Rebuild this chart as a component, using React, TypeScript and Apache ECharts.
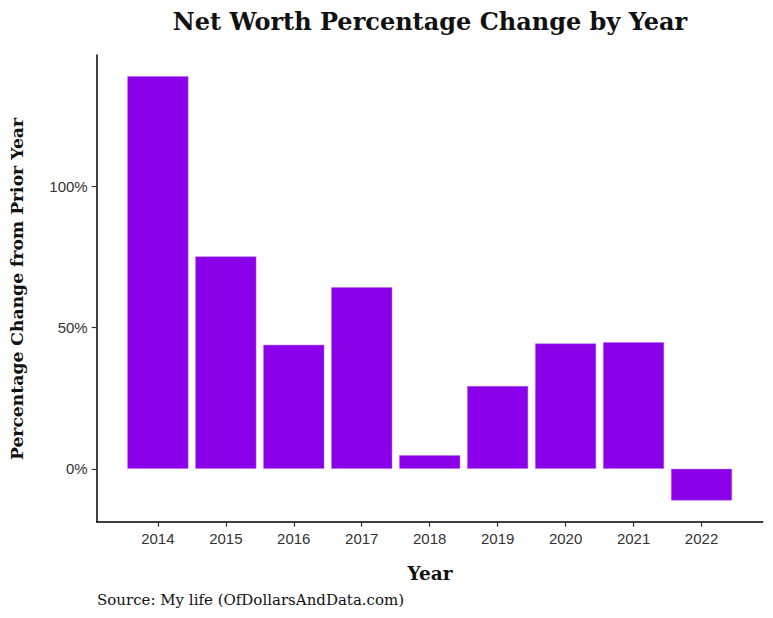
import React, { useEffect, useRef } from 'react';
import * as echarts from 'echarts';

const years = [2014, 2015, 2016, 2017, 2018, 2019, 2020, 2021, 2022];
const changes = [139.0, 75.2, 43.9, 64.3, 4.8, 29.3, 44.4, 44.8, -11.2];
const yTicks = [0, 50, 100];

const SERIF = '"DejaVu Serif", "Liberation Serif", serif';
const SANS = '"Liberation Sans", Arial, sans-serif';

export default function App() {
  const chartRef = useRef<HTMLDivElement>(null);

  useEffect(() => {
    document.body.style.margin = '0';
    const myChart = echarts.init(chartRef.current, null, { renderer: 'svg' });

    const option = {
      animation: false,
      backgroundColor: '#fff',
      grid: { left: 96.7, right: 10.3, top: 55, bottom: 96.3, containLabel: false },
      xAxis: {
        type: 'value',
        min: 2013.1,
        max: 2022.9,
        splitLine: { show: false },
        axisLine: { show: true, onZero: false, lineStyle: { color: '#000', width: 1.5 } },
        axisTick: { show: true, length: 5, customValues: years, lineStyle: { color: '#333', width: 1.2 } },
        axisLabel: {
          customValues: years,
          formatter: (v: number) => String(v),
          margin: 9,
          color: '#333',
          fontFamily: SANS,
          fontSize: 15,
        },
      },
      yAxis: {
        type: 'value',
        min: -18.7,
        max: 146.5,
        splitLine: { show: false },
        axisLine: { show: true, onZero: false, lineStyle: { color: '#000', width: 1.5 } },
        axisTick: { show: true, length: 5, customValues: yTicks, lineStyle: { color: '#333', width: 1.2 } },
        axisLabel: {
          customValues: yTicks,
          formatter: (v: number) => v + '%',
          margin: 9,
          color: '#333',
          fontFamily: SANS,
          fontSize: 15,
        },
      },
      series: [
        {
          type: 'bar',
          barWidth: 61,
          data: years.map((y, i) => [y, changes[i]]),
          itemStyle: { color: '#8A00E8', borderColor: '#b46cf0', borderWidth: 0.5 },
        },
      ],
      graphic: [
        {
          type: 'text',
          x: 430,
          y: 21,
          style: {
            text: 'Net Worth Percentage Change by Year',
            font: 'bold 24px ' + SERIF,
            fill: '#111',
            textAlign: 'center',
            textVerticalAlign: 'middle',
          },
        },
        {
          type: 'text',
          x: 17,
          y: 289,
          rotation: Math.PI / 2,
          style: {
            text: 'Percentage Change from Prior Year',
            font: 'bold 17.2px ' + SERIF,
            fill: '#111',
            textAlign: 'center',
            textVerticalAlign: 'middle',
          },
        },
        {
          type: 'text',
          x: 430,
          y: 573,
          style: {
            text: 'Year',
            font: 'bold 18.5px ' + SERIF,
            fill: '#111',
            textAlign: 'center',
            textVerticalAlign: 'middle',
          },
        },
        {
          type: 'text',
          x: 97,
          y: 600,
          style: {
            text: 'Source: My life (OfDollarsAndData.com)',
            font: '15px ' + SERIF,
            fill: '#111',
            textAlign: 'left',
            textVerticalAlign: 'middle',
          },
        },
      ],
    };

    myChart.setOption(option);
    return () => {
      myChart.dispose();
    };
  }, []);

  return <div ref={chartRef} style={{ width: '773px', height: '618px' }}></div>;
}
